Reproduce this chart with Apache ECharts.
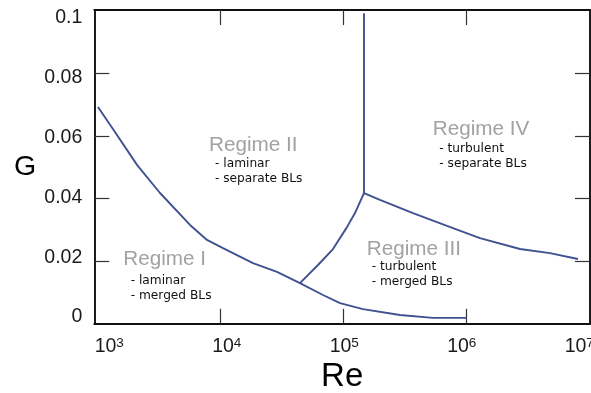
<!DOCTYPE html>
<html>
<head>
<meta charset="utf-8">
<script src="https://cdn.jsdelivr.net/npm/echarts@6/dist/echarts.min.js"></script>
<style>
  html, body { margin: 0; padding: 0; background: #ffffff; }
  #chart { width: 591px; height: 393px; }
</style>
</head>
<body>
<div id="chart"></div>
<script>
// ---- data ----
// Regime I / II boundary (lower curve)
const lowerRe = [1025, 1408, 2124, 3263, 5712, 7846, 10576, 18515, 28984, 44518, 68395, 93937, 144300, 287970, 533000, 1000000];
const lowerG  = [0.0693, 0.0613, 0.0508, 0.0418, 0.0316, 0.0268, 0.0242, 0.0194, 0.0166, 0.0130, 0.0092, 0.0066, 0.0047, 0.0028, 0.0019, 0.0019];
// laminar / turbulent transition (II - III)
const transRe = [44518, 62300, 82450, 107050, 124290, 147050];
const transG  = [0.0130, 0.0188, 0.0239, 0.0309, 0.0354, 0.0418];
// II / IV vertical separator
const sepRe = [147050, 147050];
const sepG  = [0.0418, 0.0993];
// III / IV boundary
const turbRe = [147050, 198200, 367000, 692200, 1281600, 2705000, 4735000, 7987000];
const turbG  = [0.0418, 0.0396, 0.0354, 0.0313, 0.0274, 0.0239, 0.0226, 0.0207];

// ticks and tick labels
const xTickValues  = [1e4, 1e5, 1e6];
const xLabelValues = [1e3, 1e4, 1e5, 1e6, 1e7];
const yTickValues  = [0.02, 0.04, 0.06, 0.08];
const yLabelValues = [0, 0.02, 0.04, 0.06, 0.08, 0.1];

const regimeTitles = ['Regime I', 'Regime II', 'Regime III', 'Regime IV'];
const regimeNotes = [
  ['- laminar', '- merged BLs'],
  ['- laminar', '- separate BLs'],
  ['- turbulent', '- merged BLs'],
  ['- turbulent', '- separate BLs']
];

function pairs(xs, ys) { return xs.map((x, i) => [x, ys[i]]); }

const LINE = '#3f5191';
const AX = '#111111';
const sans = '"Liberation Sans", Arial, sans-serif';

const chart = echarts.init(document.getElementById('chart'), null, { renderer: 'canvas' });

const tickStyle = { show: true, inside: true, length: 15, lineStyle: { color: '#333', width: 1.2 } };
const lineStyleAx = { show: true, onZero: false, lineStyle: { color: AX, width: 1.9 } };

// annotation placement (pixels)
const titlePos = [[123.3, 259.7], [209, 145], [366.7, 249.2], [432.7, 129.7]];
const notePos  = [[130.7, 288], [215, 171.5], [371.7, 274.7], [439.3, 156.3]];

const graphics = [];
regimeTitles.forEach((t, i) => {
  graphics.push({
    type: 'text', x: titlePos[i][0], y: titlePos[i][1], silent: true,
    style: { text: t, fill: '#a2a2a2', fontSize: 20.7, fontFamily: sans, align: 'left', verticalAlign: 'middle' }
  });
  graphics.push({
    type: 'text', x: notePos[i][0], y: notePos[i][1], silent: true,
    style: { text: regimeNotes[i].join('\n'), fill: '#111', fontSize: 12.2, lineHeight: 15,
             fontFamily: '"DejaVu Sans", Verdana, sans-serif', align: 'left', verticalAlign: 'middle' }
  });
});

const option = {
  animation: false,
  backgroundColor: '#ffffff',
  grid: { left: 94.3, top: 10, width: 495.7, height: 313.8, containLabel: false, outerBoundsMode: 'none' },
  xAxis: [
    { // main data axis (bottom)
      type: 'log', logBase: 10, min: 957, max: 1e7, position: 'bottom',
      axisLine: lineStyleAx,
      axisTick: Object.assign({}, tickStyle, { customValues: xTickValues }),
      axisLabel: { show: false },
      splitLine: { show: false }, minorTick: { show: false },
      name: 'Re', nameLocation: 'middle', nameGap: 53.2,
      nameTextStyle: { fontSize: 33, fontFamily: sans, color: '#000', align: 'center', verticalAlign: 'middle' }
    },
    { // top frame with ticks
      type: 'log', logBase: 10, min: 957, max: 1e7, position: 'top',
      axisLine: lineStyleAx,
      axisTick: Object.assign({}, tickStyle, { customValues: xTickValues }),
      axisLabel: { show: false }, splitLine: { show: false }
    },
    { // label axis
      type: 'log', logBase: 10, min: 746.3, max: 1.2346e7, position: 'bottom',
      axisLine: { show: false, onZero: false }, axisTick: { show: false }, splitLine: { show: false },
      axisLabel: {
        show: true, margin: 12.5, customValues: xLabelValues,
        formatter: function (v) { return '{b|10}{s|' + Math.round(Math.log10(v)) + '}'; },
        rich: {
          b: { fontSize: 19.5, fontFamily: sans, color: '#1a1a1a' },
          s: { fontSize: 13.5, fontFamily: sans, color: '#1a1a1a', verticalAlign: 'top', lineHeight: 11 }
        }
      }
    }
  ],
  yAxis: [
    { // main data axis (left)
      type: 'value', min: 0, max: 0.1003, position: 'left',
      axisLine: lineStyleAx,
      axisTick: Object.assign({}, tickStyle, { customValues: yTickValues }),
      axisLabel: { show: false }, splitLine: { show: false },
      name: 'G', nameLocation: 'middle', nameRotate: 0, nameGap: 69.3,
      nameTextStyle: { fontSize: 28.5, fontFamily: sans, color: '#000', align: 'center', verticalAlign: 'middle', padding: [4, 0, 0, 0] }
    },
    { // right frame with ticks
      type: 'value', min: 0, max: 0.1003, position: 'right',
      axisLine: lineStyleAx,
      axisTick: Object.assign({}, tickStyle, { customValues: yTickValues }),
      axisLabel: { show: false }, splitLine: { show: false }
    },
    { // label axis
      type: 'value', min: -0.00224, max: 0.10257, position: 'left',
      axisLine: { show: false, onZero: false }, axisTick: { show: false }, splitLine: { show: false },
      axisLabel: {
        show: true, margin: 12, customValues: yLabelValues,
        fontSize: 19.5, fontFamily: sans, color: '#1a1a1a',
        formatter: function (v) { return String(v); }
      }
    }
  ],
  series: [
    { type: 'line', data: pairs(lowerRe, lowerG) },
    { type: 'line', data: pairs(transRe, transG) },
    { type: 'line', data: pairs(sepRe, sepG) },
    { type: 'line', data: pairs(turbRe, turbG) }
  ].map(s => Object.assign(s, {
    xAxisIndex: 0, yAxisIndex: 0, showSymbol: false, symbol: 'none', smooth: false,
    lineStyle: { color: LINE, width: 1.9 }, silent: true, clip: false
  })),
  graphic: graphics
};

chart.setOption(option);
</script>
</body>
</html>
